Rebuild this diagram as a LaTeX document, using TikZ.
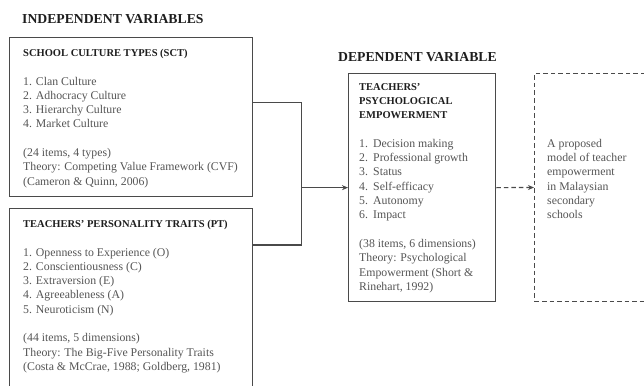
\documentclass[tikz,border=0pt]{standalone}
\usepackage{fontspec}
\setmainfont{Liberation Serif}
\usetikzlibrary{positioning,arrows.meta}
\definecolor{boxgrey}{HTML}{4A4A4A}
\definecolor{textgrey}{HTML}{555555}
\definecolor{headblack}{HTML}{1E1E1E}
\newcommand{\itm}[1]{\makebox[14pt][l]{#1}}
\newcommand{\boxhead}[1]{{\fontsize{10.5}{14.3}\bfseries\color{headblack}#1}}

\begin{document}
\begin{tikzpicture}[x=1pt,y=-1pt,
    varbox/.style={draw=boxgrey,line width=1.3pt,inner sep=0pt,anchor=north west},
    modelbox/.style={draw=boxgrey,line width=1pt,dash pattern=on 4.5pt off 3pt,inner sep=0pt,anchor=north west},
    boxtext/.style={inner sep=0pt,align=left,text=textgrey,font=\fontsize{11.8}{14.3}\selectfont},
    vartitle/.style={inner sep=0pt,text=headblack,font=\fontsize{13.7}{16}\bfseries},
    link/.style={draw=boxgrey,line width=1.2pt},
    tip/.style={-{Stealth[length=6pt,width=5pt]}}]

    \clip (0,0) rectangle (644,385);
    \fill[white] (0,0) rectangle (644,385);

    % boxes
    \node[varbox,minimum width=243pt,minimum height=159pt] (sct) at (9,37) {};
    \node[varbox,minimum width=243pt,minimum height=215pt] (pt) at (9,208) {};
    \node[varbox,minimum width=147pt,minimum height=228pt] (pe) at (348,73) {};
    \node[modelbox,minimum width=140pt,minimum height=228pt] (model) at (534,73) {};

    % titles
    \node[vartitle,above right=13pt and 13pt of sct.north west] (ivtitle) {INDEPENDENT VARIABLES};
    \node[vartitle,above right=11pt and -10pt of pe.north west] (dvtitle) {DEPENDENT VARIABLE};

    % box contents
    \node[boxtext,below right=12pt and 14pt of sct.north west] (scttext) {%
        \boxhead{SCHOOL CULTURE TYPES (SCT)}\\[14.3pt]
        1. Clan Culture\\
        2. Adhocracy Culture\\
        3. Hierarchy Culture\\
        4. Market Culture\\[14.3pt]
        (24 items, 4 types)\\
        Theory: Competing Value Framework (CVF)\\
        (Cameron \& Quinn, 2006)};

    \node[boxtext,below right=12pt and 14pt of pt.north west] (pttext) {%
        \boxhead{TEACHERS’ PERSONALITY TRAITS (PT)}\\[14.3pt]
        1. Openness to Experience (O)\\
        2. Conscientiousness (C)\\
        3. Extraversion (E)\\
        4. Agreeableness (A)\\
        5. Neuroticism (N)\\[14.3pt]
        (44 items, 5 dimensions)\\
        Theory: The Big-Five Personality Traits\\
        (Costa \& McCrae, 1988; Goldberg, 1981)};

    \node[boxtext,below right=10pt and 11pt of pe.north west] (petext) {%
        \boxhead{TEACHERS’}\\
        \boxhead{PSYCHOLOGICAL}\\
        \boxhead{EMPOWERMENT}\\[14.3pt]
        \itm{1.}Decision making\\
        \itm{2.}Professional growth\\
        \itm{3.}Status\\
        \itm{4.}Self-efficacy\\
        \itm{5.}Autonomy\\
        \itm{6.}Impact\\[14.3pt]
        (38 items, 6 dimensions)\\
        Theory: Psychological\\
        Empowerment (Short \&\\
        Rinehart, 1992)};

    \node[boxtext,below right=66pt and 13pt of model.north west] (modeltext) {%
        A proposed\\
        model of teacher\\
        empowerment\\
        in Malaysian\\
        secondary\\
        schools};

    % connectors
    \coordinate (join) at ([xshift=48pt]sct.east |- pe.west);
    \draw[link] ([yshift=14.5pt]sct.east) -| (join);
    \draw[link] ([yshift=-37pt]pt.north east) -| (join);
    \draw[link,tip] (join) -- (pe.west);
    \draw[link,tip,dash pattern=on 4.5pt off 3pt] (pe.east) -- (model.west);

\end{tikzpicture}
\end{document}
